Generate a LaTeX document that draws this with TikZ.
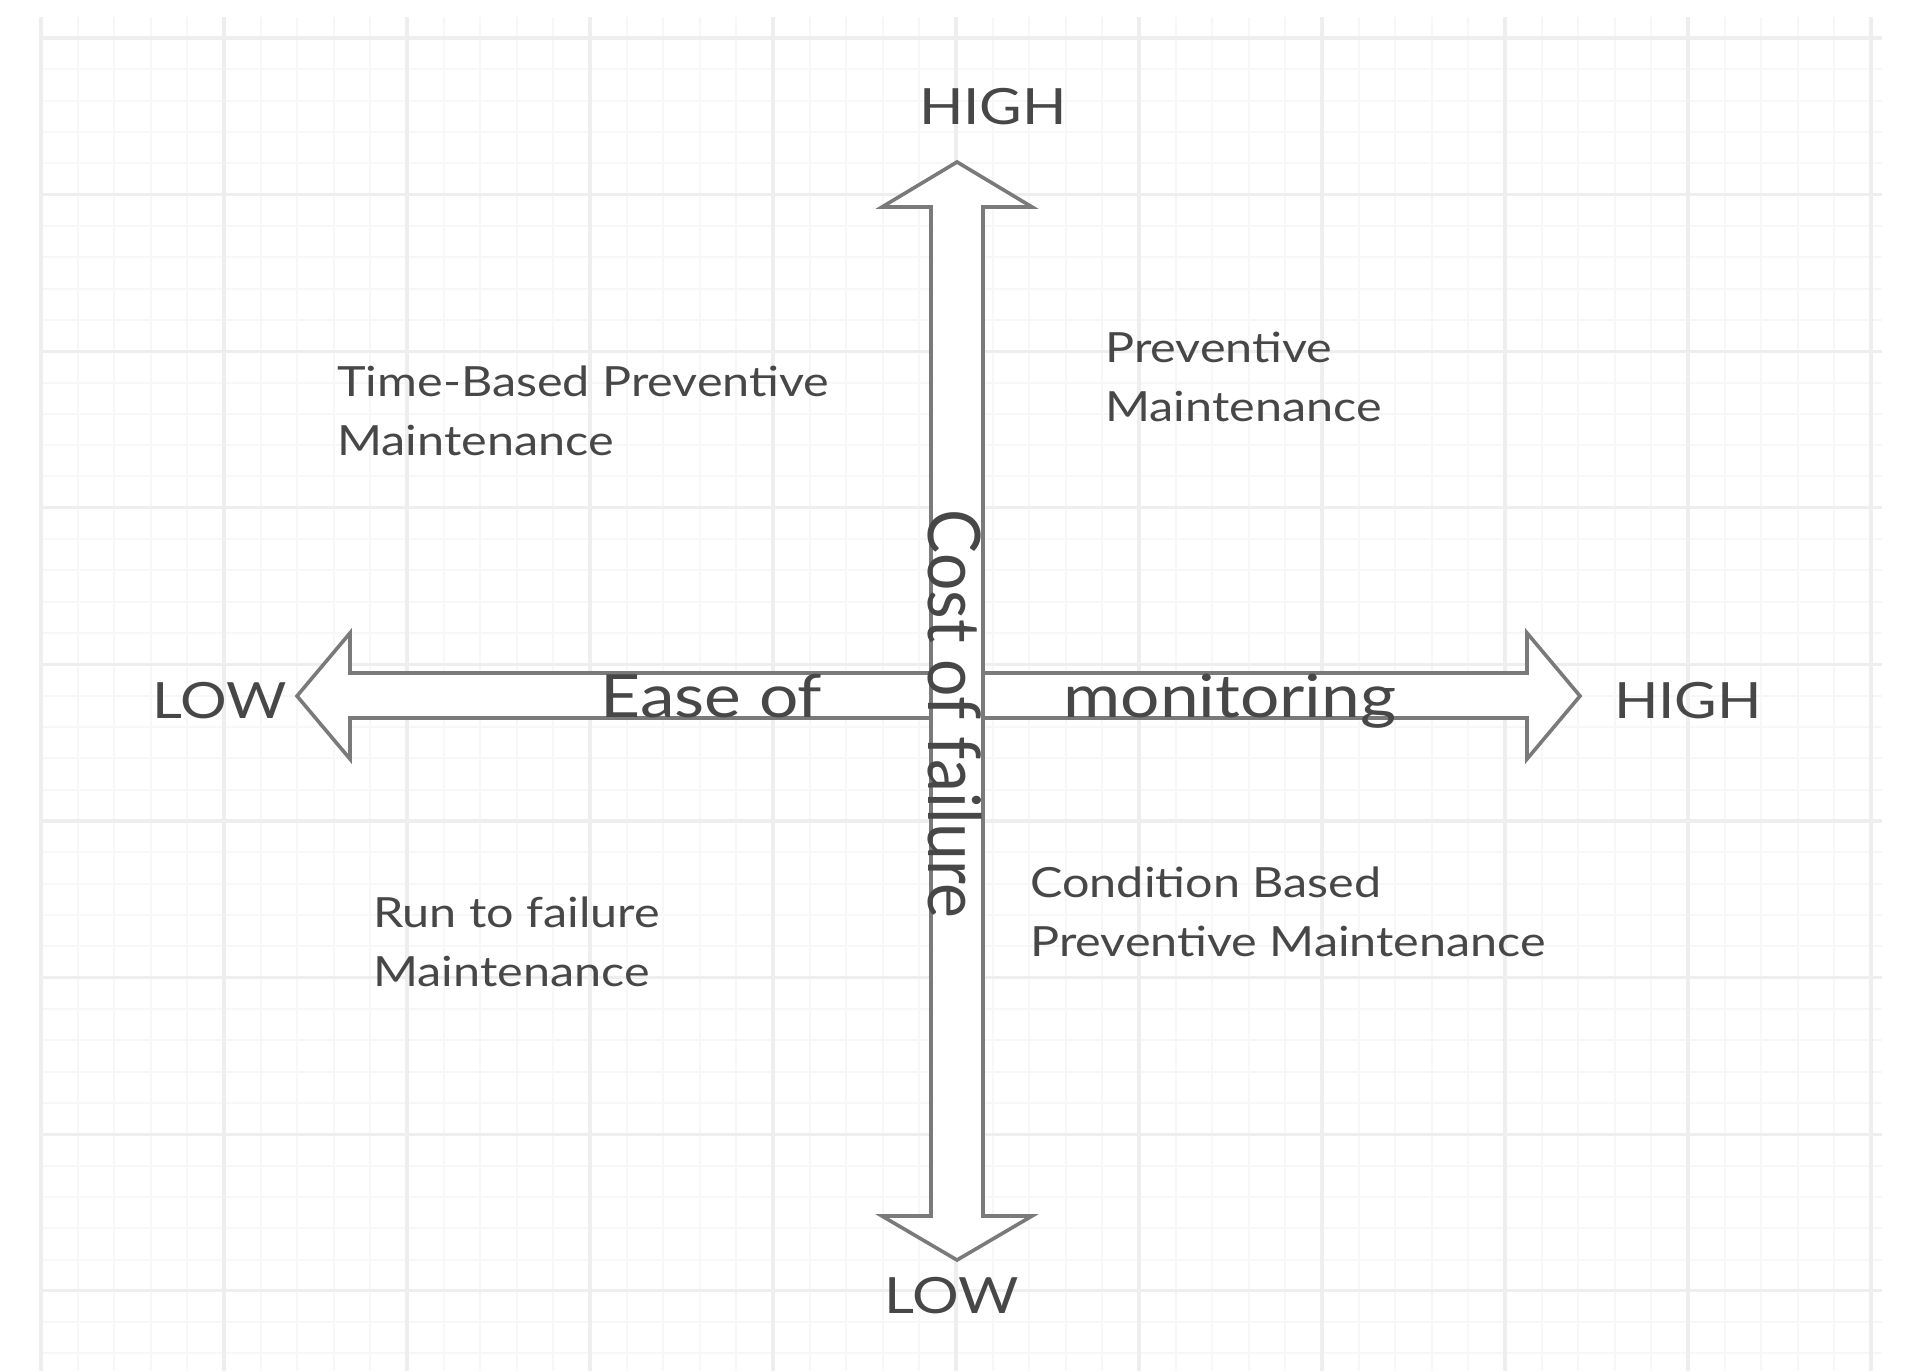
\documentclass[tikz,border=0pt]{standalone}
\usepackage{fontspec}
\setmainfont{Lato}
\usepackage{graphicx}
\definecolor{gridmaj}{HTML}{EEEEEE}
\definecolor{gridmin}{HTML}{F7F7F7}
\definecolor{arrowgray}{HTML}{7A7A7A}
\definecolor{txt}{HTML}{474747}
\newcommand{\sxx}[1]{\scalebox{1.166}[1]{#1}}
\newcommand{\syy}[1]{\scalebox{1}[1.1]{#1}}
\begin{document}
\begin{tikzpicture}[x=0.5pt,y=-0.5pt,
  minorline/.style={gridmin, line width=1pt},
  majorline/.style={gridmaj, line width=1.6pt},
  blockarrow/.style={draw=arrowgray, fill=white, line width=1.8pt, line join=miter},
  axislabel/.style={text=txt, font=\fontsize{25}{30}\selectfont, inner sep=0pt},
  quadlabel/.style={text=txt, font=\fontsize{20.8}{29.5}\selectfont, inner sep=0pt, align=left},
  shaftlabel/.style={text=txt, font=\fontsize{29.8}{34}\selectfont, inner sep=0pt}]
\useasboundingbox[fill=white] (0,0) rectangle (1920,1371);
% grid
\foreach \i in {0,...,50} \draw[minorline] ({41+36.6*\i},17) -- ({41+36.6*\i},1371);
\foreach \j in {0,...,42} \draw[minorline] (40,{38+31.32*\j}) -- (1882,{38+31.32*\j});
\foreach \i in {0,...,10} \draw[majorline] ({41+183*\i},17) -- ({41+183*\i},1371);
\foreach \j in {0,...,8} \draw[majorline] (40,{38+156.6*\j}) -- (1882,{38+156.6*\j});
% horizontal double arrow
\draw[blockarrow] (297,696) -- (350,633) -- (350,673) -- (1527,673) -- (1527,633) -- (1580,696)
  -- (1527,759) -- (1527,718) -- (350,718) -- (350,759) -- cycle;
% vertical double arrow
\draw[blockarrow] (957,162) -- (1032,207) -- (983,207) -- (983,1216) -- (1032,1216) -- (957,1260)
  -- (882,1216) -- (931,1216) -- (931,207) -- (882,207) -- cycle;
% axis end labels
\node[axislabel, anchor=base] (hightop) at (993,124) {\sxx{HIGH}};
\node[axislabel, anchor=base] (lowbottom) at (952,1313) {\sxx{LOW}};
\node[axislabel, anchor=base] (lowleft) at (220,718) {\sxx{LOW}};
\node[axislabel, anchor=base] (highright) at (1688,718) {\sxx{HIGH}};
% shaft labels
\node[shaftlabel, anchor=base west] (easeof) at (600,717) {\sxx{Ease of}};
\node[shaftlabel, anchor=base west] (monitoring) at (1063,717) {\sxx{monitoring}};
\node[text=txt, font=\fontsize{33}{38}\selectfont, inner sep=0pt, rotate=-90] (cost) at (955,714) {\syy{Cost of failure}};
% quadrant labels (base = last line)
\node[quadlabel, anchor=base west] (timebased) at (337,455) {\sxx{Time-Based Preventive}\\\sxx{Maintenance}};
\node[quadlabel, anchor=base west] (preventive) at (1105,421) {\sxx{Preventive}\\\sxx{Maintenance}};
\node[quadlabel, anchor=base west] (runtofail) at (373,986) {\sxx{Run to failure}\\\sxx{Maintenance}};
\node[quadlabel, anchor=base west] (condition) at (1030,956) {\sxx{Condition Based}\\\sxx{Preventive Maintenance}};
\end{tikzpicture}
\end{document}
